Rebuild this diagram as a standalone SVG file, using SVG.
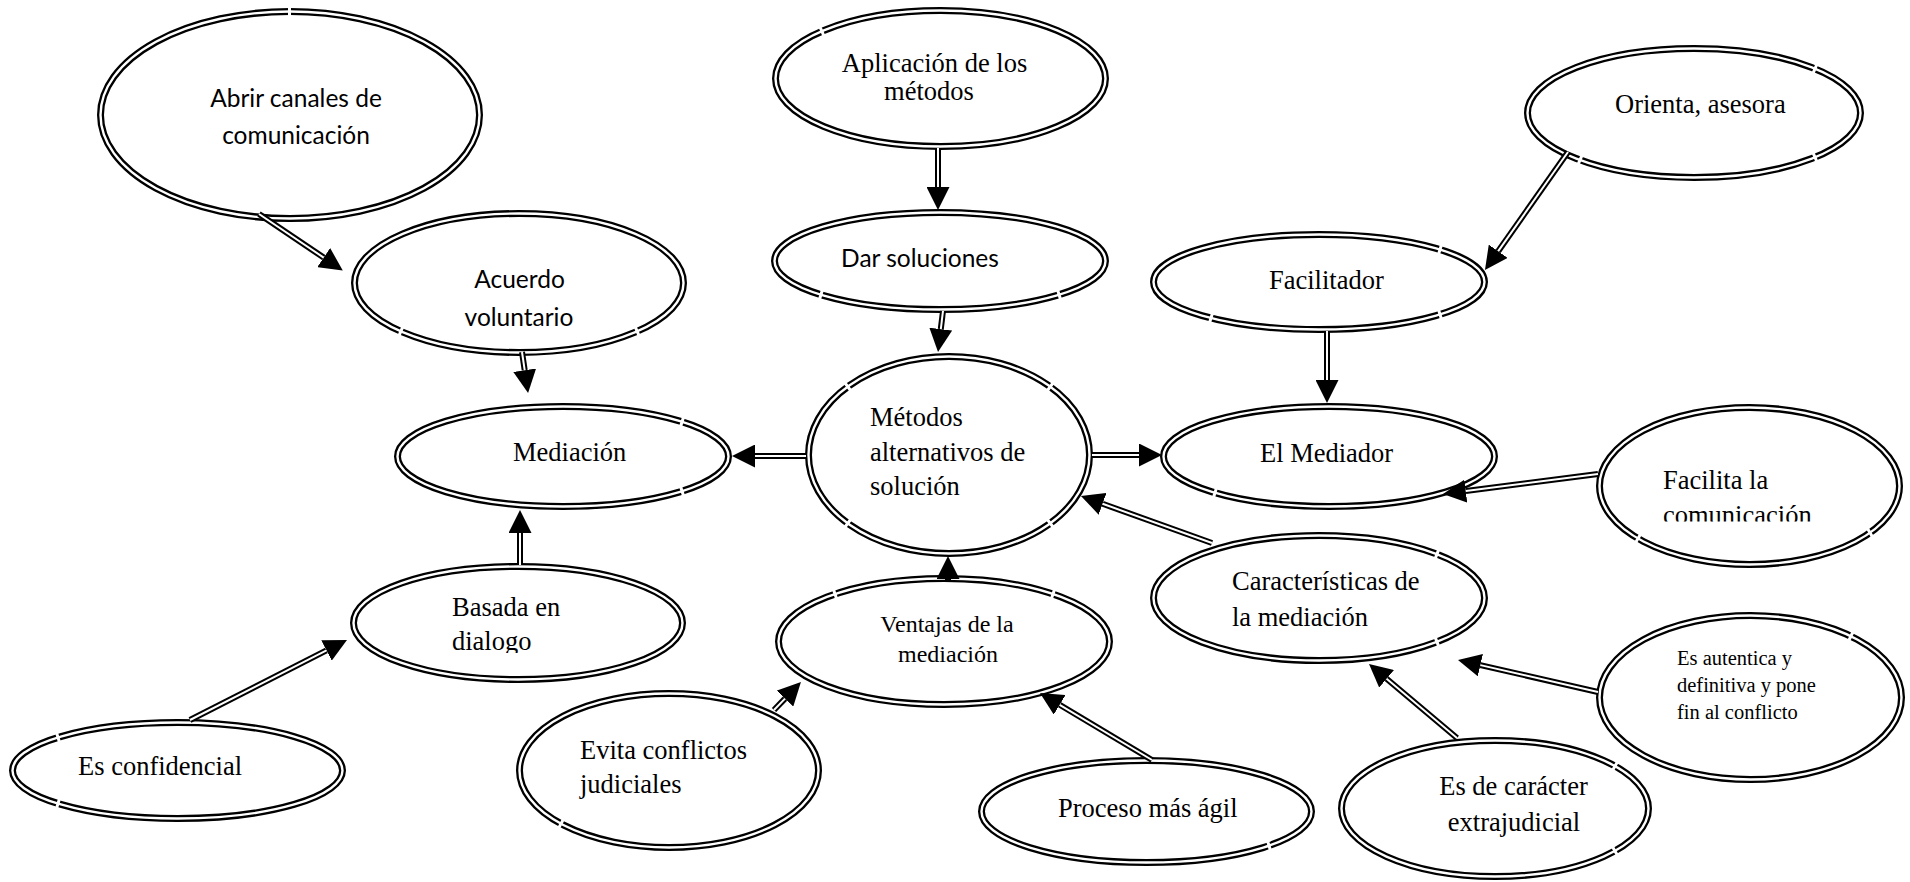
<svg xmlns="http://www.w3.org/2000/svg" width="1910" height="882" viewBox="0 0 1910 882">
<style>
.e{fill:#fff;stroke:#000;stroke-width:7}
.w{fill:none;stroke:#fff;stroke-width:2.4}
.g{fill:none;stroke:#fff;stroke-width:3}
.s{font-family:"Liberation Serif","Times New Roman",serif;font-size:26.5px;fill:#000}
.c{font-family:Lato,"Noto Sans",sans-serif;font-size:24.5px;fill:#000}
.m{text-anchor:middle}
.k{fill:none;stroke:#000;stroke-width:6}
.kw{fill:none;stroke:#fff;stroke-width:2}
</style>
<defs>
<marker id="ah" markerUnits="userSpaceOnUse" markerWidth="23" markerHeight="23" viewBox="0 0 23 23" refX="0" refY="11.5" orient="auto"><path d="M0,0 L23,11.5 L0,23 z" fill="#000"/></marker>
<clipPath id="clipJ"><rect x="1590" y="400" width="320" height="121.5"/></clipPath>
<clipPath id="clipQ"><rect x="360" y="570" width="320" height="83"/></clipPath>
</defs>
<rect width="1910" height="882" fill="#fff"/>

<g id="nA"><ellipse class="e" cx="290" cy="115" rx="189.5" ry="103.5"/><ellipse class="w" cx="290" cy="115" rx="189.5" ry="103.5"/>
<path class="g" d="M289.5,6.5 L289.5,16.5"/>
<text class="c m" x="296" y="107">Abrir canales de</text><text class="c m" x="296" y="144">comunicación</text></g>

<g id="nB"><ellipse class="e" cx="519" cy="283" rx="164.5" ry="69.5"/><ellipse class="w" cx="519" cy="283" rx="164.5" ry="69.5"/>
<path class="g" d="M399,335.6 L403,326.4 M639,335.6 L635,326.4"/>
<text class="c m" x="519.5" y="288">Acuerdo</text><text class="c m" x="519" y="326">voluntario</text></g>

<g id="nC"><ellipse class="e" cx="563" cy="456.5" rx="165.5" ry="50"/><ellipse class="w" cx="563" cy="456.5" rx="165.5" ry="50"/>
<path class="g" d="M683.5,417.2 L680.5,426.8 M683.5,495.8 L680.5,486.2"/>
<text class="s" x="513" y="461">Mediación</text></g>

<g id="nD"><ellipse class="e" cx="940.5" cy="78.5" rx="165" ry="68"/><ellipse class="w" cx="940.5" cy="78.5" rx="165" ry="68"/>
<path class="g" d="M820,27 L824,36.2"/>
<text class="s m" x="934.5" y="72">Aplicación de los</text><text class="s m" x="929" y="100">métodos</text></g>

<g id="nE"><ellipse class="e" cx="940" cy="261" rx="165.5" ry="48.5"/><ellipse class="w" cx="940" cy="261" rx="165.5" ry="48.5"/>
<path class="g" d="M819.5,299.3 L822.5,289.7 M1060.5,299.3 L1057.5,289.7"/>
<text class="c m" x="920" y="267">Dar soluciones</text></g>

<g id="nF"><ellipse class="e" cx="949" cy="455" rx="140.5" ry="98.5"/><ellipse class="w" cx="949" cy="455" rx="140.5" ry="98.5"/>
<path class="g" d="M845,383 L851,391 M1053,383 L1047,391 M845,527 L851,519 M1053,527 L1047,519"/>
<text class="s" x="870" y="426">Métodos</text><text class="s" x="870" y="461">alternativos de</text><text class="s" x="870" y="495">solución</text></g>

<g id="nG"><ellipse class="e" cx="1329" cy="456.5" rx="165.5" ry="50"/><ellipse class="w" cx="1329" cy="456.5" rx="165.5" ry="50"/>
<path class="g" d="M1213.5,497.5 L1216.5,487.9"/>
<text class="s" x="1260" y="462">El Mediador</text></g>

<g id="nH"><ellipse class="e" cx="1319" cy="282" rx="165.5" ry="47.5"/><ellipse class="w" cx="1319" cy="282" rx="165.5" ry="47.5"/>
<path class="g" d="M1441.5,244.8 L1438.5,254.4 M1209.5,322.8 L1212.5,313.2 M1441.5,319.2 L1438.5,309.6"/>
<text class="s" x="1269" y="289">Facilitador</text></g>

<g id="nI"><ellipse class="e" cx="1694" cy="113" rx="166.5" ry="64.5"/><ellipse class="w" cx="1694" cy="113" rx="166.5" ry="64.5"/>
<path class="g" d="M1817,64 L1813,73.4 M1578,164.7 L1582,155.3 M1817,162 L1813,152.6"/>
<text class="s" x="1615" y="113">Orienta, asesora</text></g>

<g id="nJ"><ellipse class="e" cx="1749.5" cy="486" rx="150" ry="78.5"/><ellipse class="w" cx="1749.5" cy="486" rx="150" ry="78.5"/>
<path class="g" d="M1635.5,542.8 L1640.5,534.2 M1872.5,537.1 L1867.5,528.5"/>
<text class="s" x="1663" y="489">Facilita la</text><text class="s" x="1663" y="523.5" clip-path="url(#clipJ)">comunicación</text></g>

<g id="nK"><ellipse class="e" cx="1319" cy="598" rx="165.5" ry="62.5"/><ellipse class="w" cx="1319" cy="598" rx="165.5" ry="62.5"/>
<path class="g" d="M1438.8,549.4 L1435.2,558.6 M1438.8,646.6 L1435.2,637.4"/>
<text class="s" x="1232" y="590">Características de</text><text class="s" x="1232" y="626">la mediación</text></g>

<g id="nL"><ellipse class="e" cx="1750.5" cy="697.5" rx="151" ry="82"/><ellipse class="w" cx="1750.5" cy="697.5" rx="151" ry="82"/>
<path class="g" d="M1853.2,631.5 L1848.8,640.5"/>
<text class="s" x="1677" y="665" style="font-size:20.5px">Es autentica y</text><text class="s" x="1677" y="692" style="font-size:20.5px">definitiva y pone</text><text class="s" x="1677" y="719" style="font-size:20.5px">fin al conflicto</text></g>

<g id="nM"><ellipse class="e" cx="1495" cy="808.5" rx="153.5" ry="68"/><ellipse class="w" cx="1495" cy="808.5" rx="153.5" ry="68"/>
<path class="g" d="M1617.5,761.7 L1612.5,770.4 M1617.5,855.4 L1612.5,846.7"/>
<text class="s m" x="1513.5" y="795">Es de carácter</text><text class="s m" x="1514" y="831">extrajudicial</text></g>

<g id="nN"><ellipse class="e" cx="1146.5" cy="811.5" rx="165" ry="51"/><ellipse class="w" cx="1146.5" cy="811.5" rx="165" ry="51"/>
<path class="g" d="M1270.5,850.5 L1267.5,840.9"/>
<text class="s" x="1058" y="817">Proceso más ágil</text></g>

<g id="nO"><ellipse class="e" cx="944" cy="641.5" rx="165.5" ry="63"/><ellipse class="w" cx="944" cy="641.5" rx="165.5" ry="63"/>
<path class="g" d="M833.4,589.2 L836.6,598.8 M1054.6,589.2 L1051.4,598.8"/>
<text class="s m" x="947" y="632" style="font-size:24px">Ventajas de la</text><text class="s m" x="948" y="662" style="font-size:24px">mediación</text></g>

<g id="nP"><ellipse class="e" cx="669" cy="770.5" rx="149.5" ry="77"/><ellipse class="w" cx="669" cy="770.5" rx="149.5" ry="77"/>
<path class="g" d="M558.6,828.1 L563.4,819.3"/>
<text class="s" x="580" y="759">Evita conflictos</text><text class="s" x="580" y="793">judiciales</text></g>

<g id="nQ"><ellipse class="e" cx="518" cy="623" rx="164.5" ry="56.5"/><ellipse class="w" cx="518" cy="623" rx="164.5" ry="56.5"/>
<g clip-path="url(#clipQ)"><text class="s" x="452" y="616">Basada en</text><text class="s" x="452" y="650">dialogo</text></g></g>

<g id="nR"><ellipse class="e" cx="177.5" cy="770.5" rx="165" ry="48"/><ellipse class="w" cx="177.5" cy="770.5" rx="165" ry="48"/>
<path class="g" d="M56.5,732.6 L59.5,742.2 M56.5,808.4 L59.5,798.8"/>
<text class="s" x="78" y="775">Es confidencial</text></g>

<g id="connectors">
<path class="k" d="M259,214 L323.7,257.6" marker-end="url(#ah)"/><path class="kw" d="M259,214 L323.7,257.6"/>
<path class="k" d="M522,352 L524.7,370.2" marker-end="url(#ah)"/><path class="kw" d="M522,352 L524.7,370.2"/>
<path class="k" d="M938,148 L938,187" marker-end="url(#ah)"/><path class="kw" d="M938,148 L938,187"/>
<path class="k" d="M943,311 L940.8,329.1" marker-end="url(#ah)"/><path class="kw" d="M943,311 L940.8,329.1"/>
<path class="k" d="M806,456 L755,456" marker-end="url(#ah)"/><path class="kw" d="M806,456 L755,456"/>
<path class="k" d="M1092,455 L1139,455" marker-end="url(#ah)"/><path class="kw" d="M1092,455 L1139,455"/>
<path class="k" d="M1568,152 L1498.2,251.2" marker-end="url(#ah)"/><path class="kw" d="M1568,152 L1498.2,251.2"/>
<path class="k" d="M1327,331 L1327,380" marker-end="url(#ah)"/><path class="kw" d="M1327,331 L1327,380"/>
<path class="k" d="M1598,474 L1465.8,491.1" marker-end="url(#ah)"/><path class="kw" d="M1598,474 L1465.8,491.1"/>
<path class="k" d="M1212,543 L1102.6,503.8" marker-end="url(#ah)"/><path class="kw" d="M1212,543 L1102.6,503.8"/>
<path class="k" d="M1598,692 L1480.4,665.1" marker-end="url(#ah)"/><path class="kw" d="M1598,692 L1480.4,665.1"/>
<path class="k" d="M1457,738 L1386.6,678.8" marker-end="url(#ah)"/><path class="kw" d="M1457,738 L1386.6,678.8"/>
<path class="k" d="M1152,760 L1059.7,704.8" marker-end="url(#ah)"/><path class="kw" d="M1152,760 L1059.7,704.8"/>
<path class="k" d="M948,582 L948,579" marker-end="url(#ah)"/>
<path class="k" d="M774,710 L785,698.6" marker-end="url(#ah)"/><path class="kw" d="M774,710 L785,698.6"/>
<path class="k" d="M520,565 L520,533" marker-end="url(#ah)"/><path class="kw" d="M520,565 L520,533"/>
<path class="k" d="M190,720 L326.5,650.4" marker-end="url(#ah)"/><path class="kw" d="M190,720 L326.5,650.4"/>
</g>
</svg>
